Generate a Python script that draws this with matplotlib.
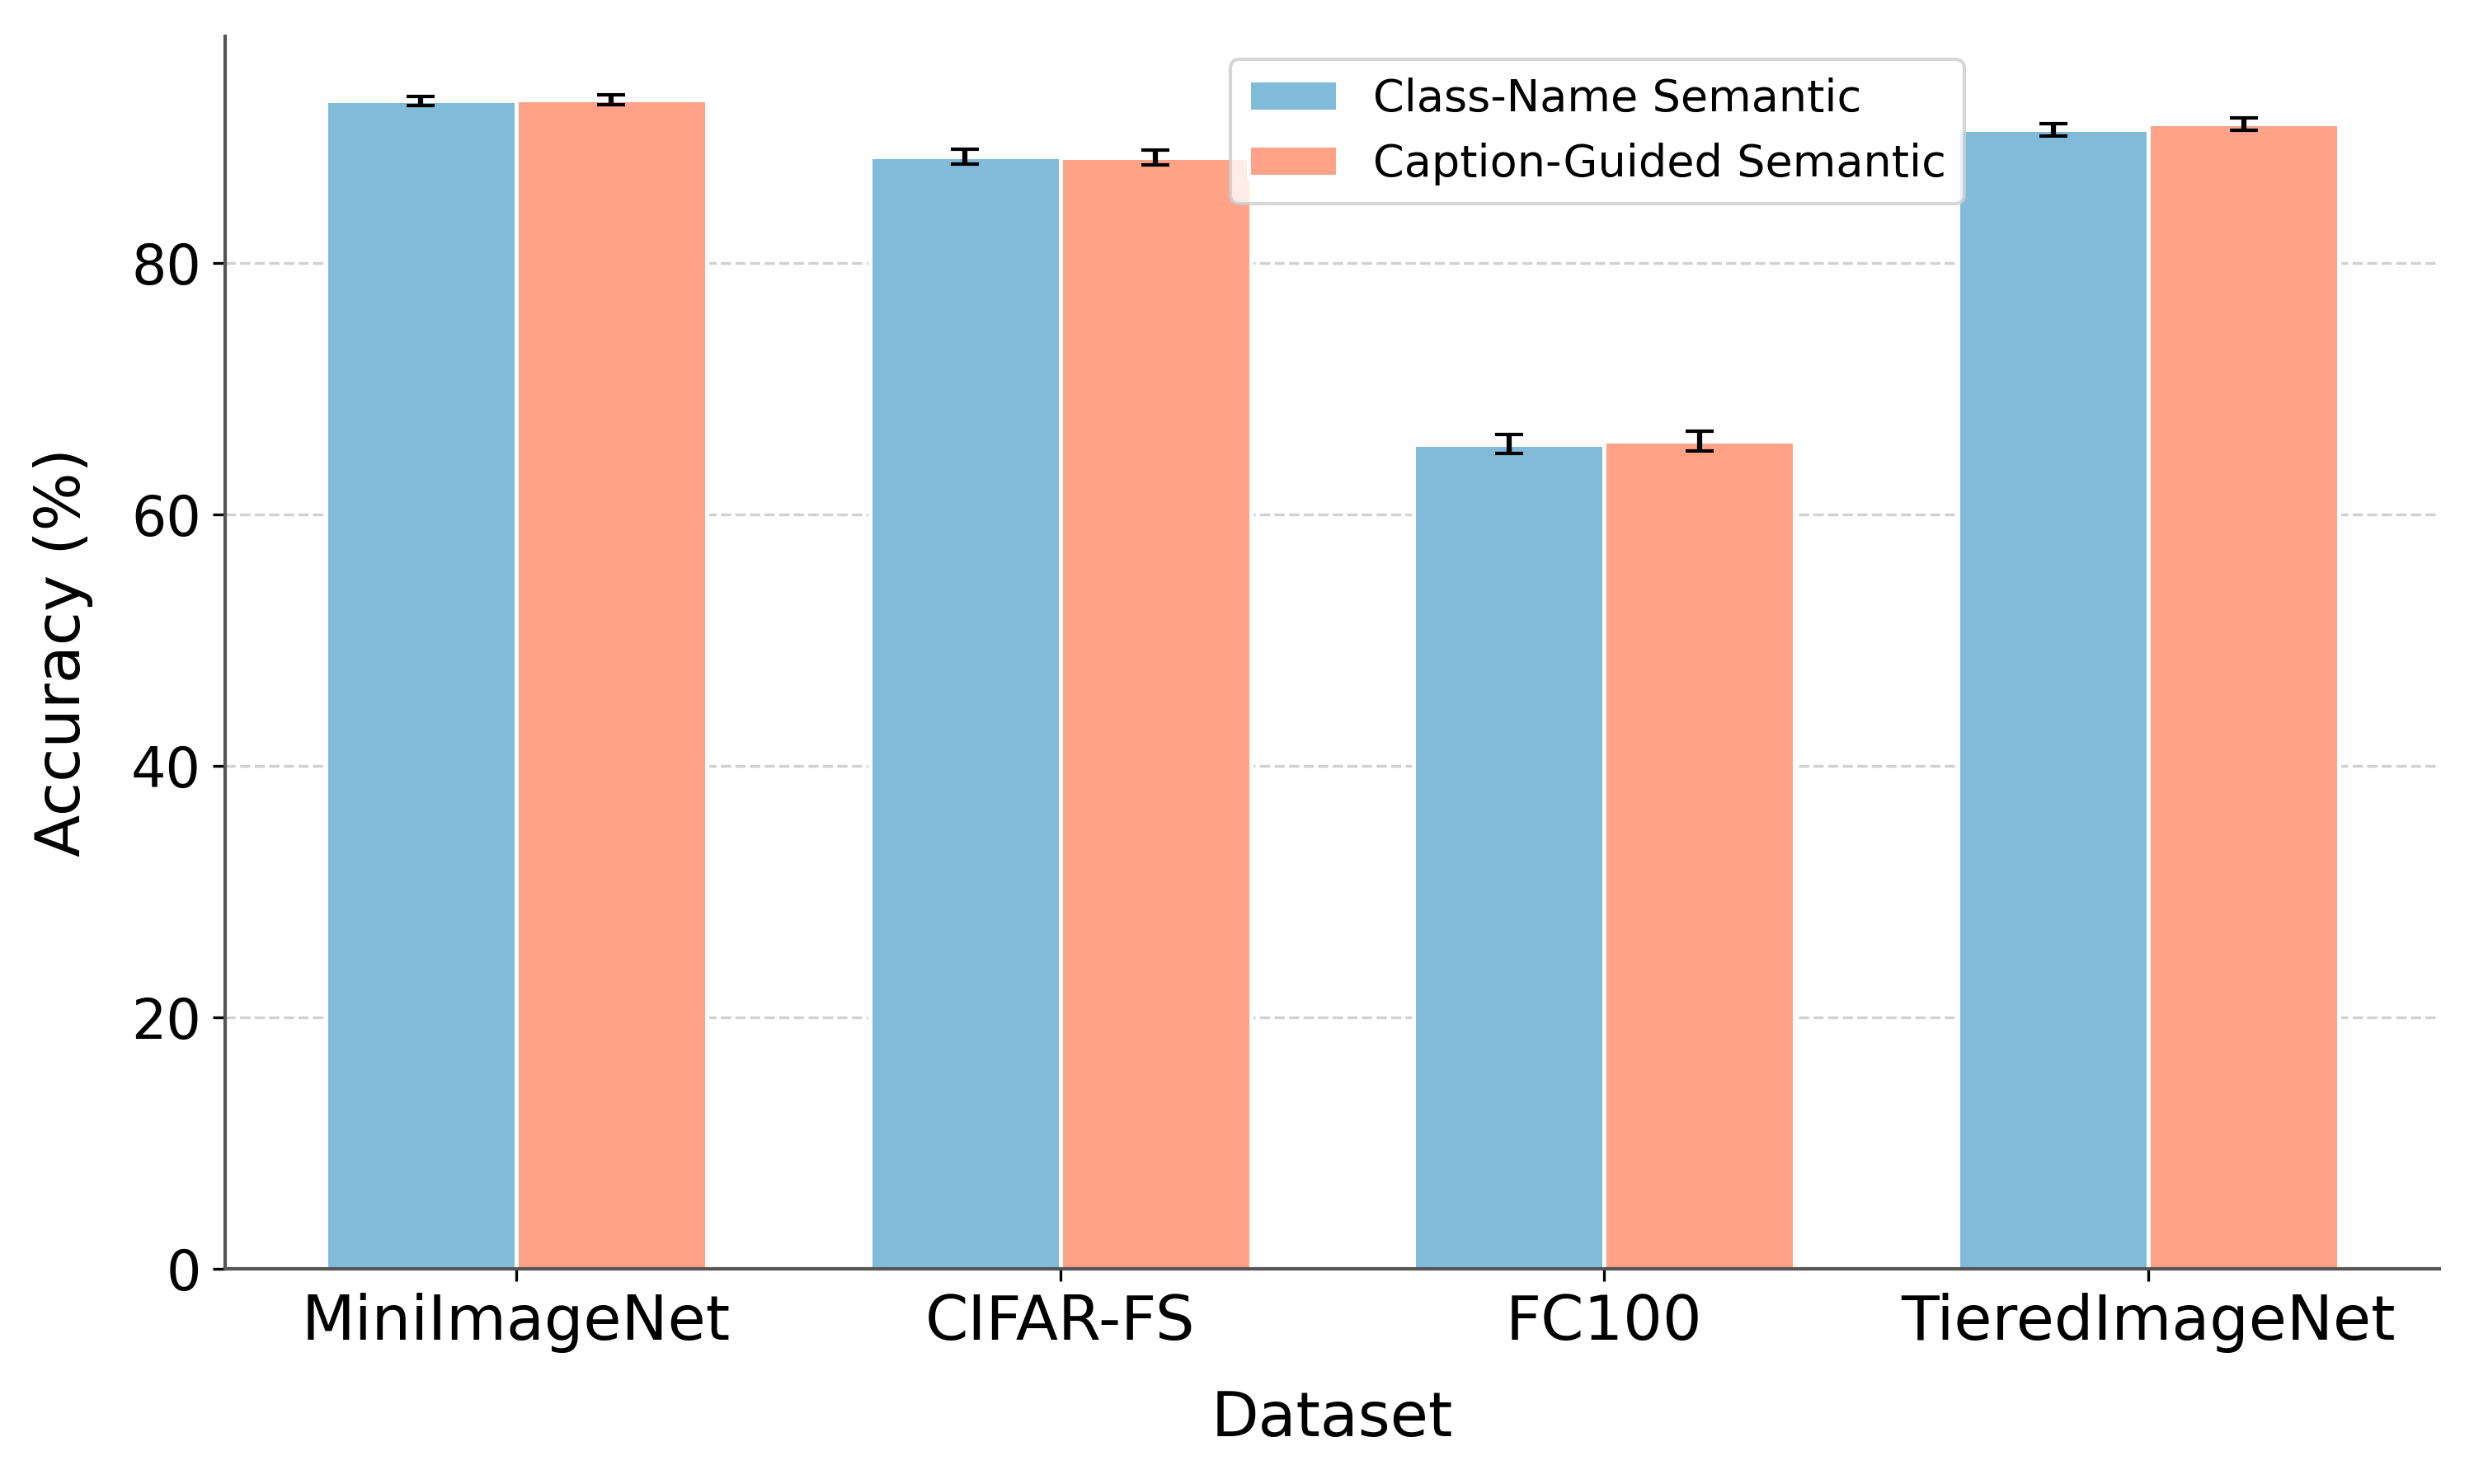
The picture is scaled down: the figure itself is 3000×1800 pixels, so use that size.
import matplotlib
matplotlib.use("Agg")
import matplotlib.pyplot as plt
import numpy as np

datasets = ["MiniImageNet", "CIFAR-FS", "FC100", "TieredImageNet"]
series_names = ["Class-Name Semantic", "Caption-Guided Semantic"]
class_name_acc = [92.9, 88.48, 65.6, 90.62]
class_name_err = [0.35, 0.59, 0.77, 0.50]
caption_acc = [93.0, 88.42, 65.86, 91.07]
caption_err = [0.38, 0.59, 0.79, 0.49]
colors = ["#81BBDA", "#FFA288"]

fig, ax = plt.subplots(figsize=(10, 6), dpi=300)
x = np.arange(len(datasets))
w = 0.35
ax.set_axisbelow(True)
ax.yaxis.grid(True, linestyle="--", color="#cccccc", linewidth=0.8, alpha=0.9)
ax.bar(x - w / 2, class_name_acc, w, yerr=class_name_err, capsize=4,
       color=colors[0], edgecolor="white", linewidth=1.2,
       label=series_names[0], error_kw=dict(ecolor="black", elinewidth=1.5, capthick=1.0))
ax.bar(x + w / 2, caption_acc, w, yerr=caption_err, capsize=4,
       color=colors[1], edgecolor="white", linewidth=1.2,
       label=series_names[1], error_kw=dict(ecolor="black", elinewidth=1.5, capthick=1.0))

ax.set_xticks(x)
ax.set_xticklabels(datasets, fontsize=18)
ax.tick_params(axis="y", labelsize=16)
ax.set_xlabel("Dataset", fontsize=18, labelpad=10.5)
ax.set_ylabel("Accuracy (%)", fontsize=18, labelpad=11)
for s in ["top", "right"]:
    ax.spines[s].set_visible(False)
for s in ["left", "bottom"]:
    ax.spines[s].set_color("#555555")
    ax.spines[s].set_linewidth(1.0)

ax.legend(loc="upper left", bbox_to_anchor=(0.454, 0.981), borderaxespad=0,
          fontsize=13, frameon=True)

fig.subplots_adjust(left=0.091, right=0.986, bottom=0.145, top=0.9756)
fig.savefig("out.png", dpi=300)
